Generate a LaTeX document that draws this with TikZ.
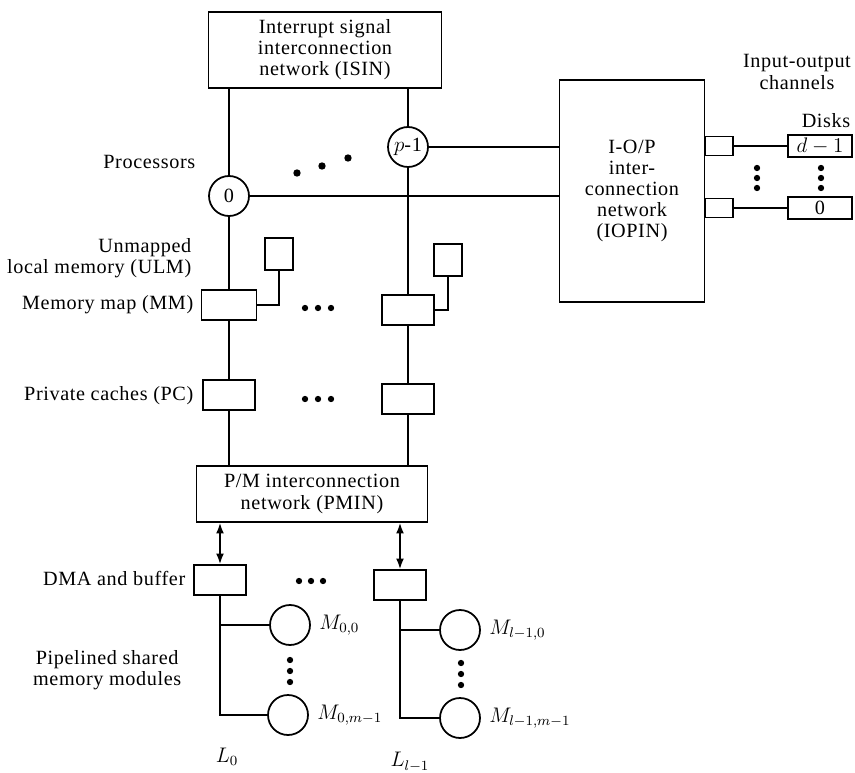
\documentclass[tikz,border=0pt]{standalone}
\usepackage{fontspec}
\setmainfont[LetterSpace=3]{Liberation Serif}
\usetikzlibrary{positioning,arrows.meta,calc}

\begin{document}
\begin{tikzpicture}[x=0.02cm, y=-0.02cm, line width=1pt,
    every node/.style={font=\fontsize{11.5}{12}\selectfont},
    netbox/.style={draw, align=center, inner sep=2pt},
    unitbox/.style={draw, minimum width=1.04cm, minimum height=0.6cm},
    ulmbox/.style={draw, minimum width=0.56cm, minimum height=0.64cm},
    proc/.style={draw, circle, minimum size=0.8cm, inner sep=0pt},
    memmod/.style={draw, circle, minimum size=0.8cm, inner sep=0pt},
    portbox/.style={draw, minimum width=0.56cm, minimum height=0.38cm},
    diskbox/.style={draw, minimum width=1.28cm, minimum height=0.44cm, inner sep=0pt},
    lbl/.style={align=right, anchor=east},
    dotmark/.style={circle, fill, inner sep=0pt, minimum size=3.6pt},
    dblarrow/.style={{Latex[length=6pt,width=4.5pt]}-{Latex[length=6pt,width=4.5pt]}}
]
\useasboundingbox (0,0) rectangle (855,773);

% networks
\node[netbox, minimum width=4.66cm, minimum height=1.52cm] (isin) at (325,50)
     {Interrupt signal\\interconnection\\network (ISIN)};
\node[netbox, minimum width=2.9cm, minimum height=4.44cm] (iopin) at (632,191)
     {I-O/P\\inter-\\connection\\network\\(IOPIN)};
\node[netbox, minimum width=4.62cm, minimum height=1.12cm] (pmin) at (312,494)
     {P/M interconnection\\network (PMIN)};

% processors
\node[proc] (p0) at (229,196) {0};
\node[proc] (plast) at (408,147) {$p$-1};
\foreach \x/\y in {297/173, 322/166, 348/158}
    \node[dotmark, minimum size=4.2pt] at (\x,\y) {};

% I/O channels and disks
\node[portbox] (port1) at (719,146) {};
\node[portbox] (port0) at (719,208) {};
\node[diskbox] (disk1) at (820,146) {$d-1$};
\node[diskbox] (disk0) at (820,208) {0};
\node[align=center] (iolbl) at (797,72) {Input-output\\channels};
\node (disklbl) at (826,121) {Disks};
\foreach \y in {168,178,188} {
    \node[dotmark] at (757,\y) {};
    \node[dotmark] at (821,\y) {};
}

% memory map, ULM, private caches
\node[unitbox, minimum width=1.1cm] (mm0) at (229,305) {};
\node[unitbox] (mm1) at (408,310) {};
\node[ulmbox] (ulm0) at (279,254) {};
\node[ulmbox] (ulm1) at (448,260) {};
\node[unitbox] (pc0) at (229,395) {};
\node[unitbox] (pc1) at (408,399) {};
\foreach \x in {305,318,331} {
    \node[dotmark] at (\x,308) {};
    \node[dotmark] at (\x,399) {};
}

% DMA and memory modules
\node[unitbox] (dma0) at (220,580) {};
\node[unitbox] (dma1) at (400,585) {};
\foreach \x in {299,311,323}
    \node[dotmark] at (\x,581) {};
\node[memmod] (m00) at (290,625) {};
\node[memmod] (m0m) at (288,715) {};
\node[memmod] (m10) at (460,630) {};
\node[memmod] (m1m) at (460,718) {};
\foreach \y in {660,671,682} {
    \node[dotmark] at (290,\y) {};
    \node[dotmark] at (461,\y+3) {};
}
\node[right=1pt of m00] {$M_{0,0}$};
\node[right=1pt of m0m] {$M_{0,m-1}$};
\node[right=1pt of m10] {$M_{l-1,0}$};
\node[right=1pt of m1m] {$M_{l-1,m-1}$};
\node (l0) at (227,757) {$L_0$};
\node (l1) at (410,762) {$L_{l-1}$};

% left labels
\node[lbl] at (202,162) {Processors};
\node[lbl] at (198,258) {Unmapped\\local memory (ULM)};
\node[lbl] at (200,305) {Memory map (MM)};
\node[lbl] at (200,396) {Private caches (PC)};
\node[lbl] at (192,578) {DMA and buffer};
\node[align=center, anchor=east] at (188,670) {Pipelined shared\\memory modules};

% buses
\draw (isin.south -| p0) -- (p0);
\draw (p0) -- (mm0);
\draw (mm0) -- (pc0);
\draw (pc0) -- (pmin.north -| pc0);
\draw (isin.south -| plast) -- (plast);
\draw (plast) -- (mm1);
\draw (mm1) -- (pc1);
\draw (pc1) -- (pmin.north -| pc1);
\draw (mm0.east) -| (ulm0.south);
\draw (mm1.east) -| (ulm1.south);
\draw (plast.east) -- (plast.east -| iopin.west);
\draw (p0.east) -- (p0.east -| iopin.west);
\draw (port1.east) -- (disk1.west);
\draw (port0.east) -- (disk0.west);
\draw[dblarrow] (pmin.south -| dma0) -- (dma0);
\draw[dblarrow] (pmin.south -| dma1) -- (dma1);
\draw (dma0) |- (m0m);
\draw (dma0 |- m00) -- (m00);
\draw (dma1) |- (m1m);
\draw (dma1 |- m10) -- (m10);
\end{tikzpicture}
\end{document}
